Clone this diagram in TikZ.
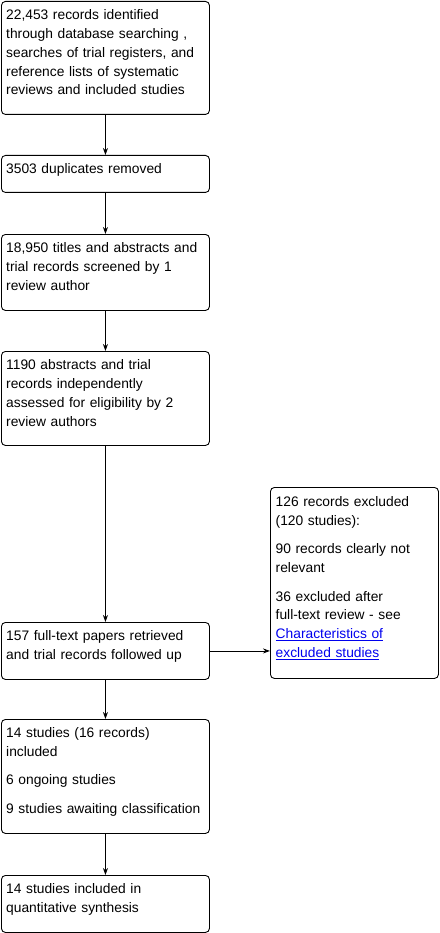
\documentclass[tikz,border=0pt]{standalone}
\usepackage{fontspec}
\setmainfont{Liberation Sans}
\usetikzlibrary{arrows.meta}
\definecolor{linkblue}{RGB}{0,0,238}
\begin{document}
\begin{tikzpicture}[x=1pt,y=-1pt,
  boxst/.style={draw=black, line width=0.9pt, rounded corners=4pt, inner sep=0pt, anchor=north west},
  txt/.style={anchor=north west, inner sep=0pt, align=left, text width=#1,
    font=\fontsize{13.8}{18.8}\selectfont},
  txt/.default=205pt,
  arr/.style={draw=black, line width=0.9pt, -{Stealth[length=7pt,width=5pt]}}]
\useasboundingbox (0,0) rectangle (439,933);
% boxes
\node[boxst, minimum width=208pt, minimum height=113pt] (b1) at (1,1) {};
\node[boxst, minimum width=208pt, minimum height=37pt] (b2) at (1,155) {};
\node[boxst, minimum width=208pt, minimum height=76pt] (b3) at (1,234) {};
\node[boxst, minimum width=208pt, minimum height=94pt] (b4) at (1,351) {};
\node[boxst, minimum width=208pt, minimum height=57pt] (b5) at (1,622) {};
\node[boxst, minimum width=208pt, minimum height=114pt] (b6) at (1,719) {};
\node[boxst, minimum width=208pt, minimum height=57pt] (b7) at (1,875) {};
\node[boxst, minimum width=168pt, minimum height=191pt] (r) at (270,487) {};
% texts
\node[txt] (t1) at ([shift={(5,5.3)}]b1.north west) {\strut 22,453 records identified\\through database searching ,\\searches of trial registers, and\\reference lists of systematic\\reviews and included studies};
\node[txt] (t2) at ([shift={(5,5.3)}]b2.north west) {\strut 3503 duplicates removed};
\node[txt] (t3) at ([shift={(5,5.3)}]b3.north west) {\strut 18,950 titles and abstracts and\\trial records screened by 1\\review author};
\node[txt] (t4) at ([shift={(5,5.3)}]b4.north west) {\strut 1190 abstracts and trial\\records independently\\assessed for eligibility by 2\\review authors};
\node[txt] (t5) at ([shift={(5,5.3)}]b5.north west) {\strut 157 full-text papers retrieved\\and trial records followed up};
\node[txt] (t6) at ([shift={(5,5.3)}]b6.north west) {\strut 14 studies (16 records)\\included\\[9.5pt]6 ongoing studies\\[9.5pt]9 studies awaiting classification};
\node[txt] (t7) at ([shift={(5,5.3)}]b7.north west) {\strut 14 studies included in\\quantitative synthesis};
\node[txt=165pt] (tr) at ([shift={(5.5,6.5)}]r.north west) {\strut 126 records excluded\\(120 studies):\\[9.5pt]90 records clearly not\\relevant\\[9.5pt]36 excluded after\\full-text review - see\\\textcolor{linkblue}{\underline{Characteristics of}}\\\textcolor{linkblue}{\underline{excluded studies}}};
% connectors
\draw[arr] (b1.south) -- (b2.north);
\draw[arr] (b2.south) -- (b3.north);
\draw[arr] (b3.south) -- (b4.north);
\draw[arr] (b4.south) -- (b5.north);
\draw[arr] (b5.south) -- (b6.north);
\draw[arr] (b6.south) -- (b7.north);
\draw[arr] (b5.east) -- (b5.east -| r.west);
\end{tikzpicture}
\end{document}
